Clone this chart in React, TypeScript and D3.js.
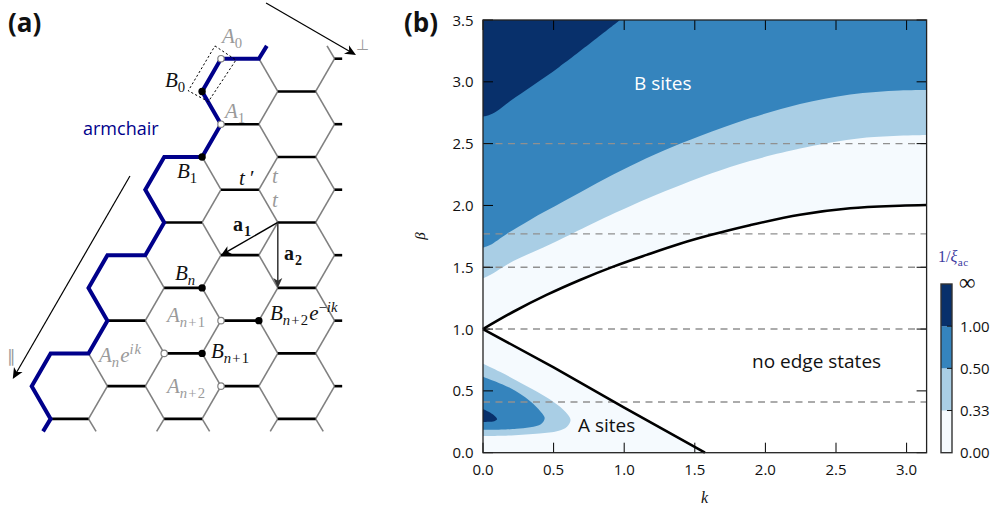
import React from "react";
import * as d3 from "d3";

const W = 993, H = 510;
const SANS = "'Open Sans', Lato, sans-serif";
const SERIF = "'Liberation Serif', serif";

// ---- Panel (b) data: [k, beta]
const xTicks = [0, 0.5, 1, 1.5, 2, 2.5, 3];
const yTicks = [0, 0.5, 1, 1.5, 2, 2.5, 3, 3.5];
const dashedBetas = [2.5, 1.77, 1.5, 1.0, 0.41];
const edgeUpper: [number, number][] = [[0, 1.0], [0.215, 1.14], [0.45, 1.276], [0.687, 1.397], [0.923, 1.505], [1.159, 1.6], [1.395, 1.69], [1.61, 1.76], [1.89, 1.84], [2.245, 1.925], [2.6, 1.977], [2.95, 1.998], [3.1416, 2.004]];
const edgeLower: [number, number][] = [[0, 1.0], [0.5, 0.69], [1, 0.365], [1.572, 0]];
const contourB033: [number, number][] = [[0, 1.411], [0.05, 1.438], [0.215, 1.55], [0.427, 1.66], [0.628, 1.77], [0.937, 1.94], [1.173, 2.06], [1.41, 2.17], [1.62, 2.26], [1.89, 2.36], [2.245, 2.46], [2.445, 2.505], [2.717, 2.55], [3.1416, 2.57]];
const contourB050: [number, number][] = [[0, 1.659], [0.05, 1.68], [0.168, 1.77], [0.333, 1.883], [0.569, 2.031], [0.805, 2.18], [1.04, 2.318], [1.277, 2.443], [1.537, 2.562], [1.89, 2.705], [2.245, 2.82], [2.6, 2.897], [2.95, 2.93], [3.1416, 2.934]];
const contourB100: [number, number][] = [[0, 2.72], [0.04, 2.73], [0.094, 2.76], [0.2, 2.85], [0.54, 3.12], [0.97, 3.5]];
const lobeA033: [number, number][] = [[0, 0.72], [0.12, 0.655], [0.236, 0.585], [0.38, 0.495], [0.507, 0.405], [0.585, 0.33], [0.62, 0.265], [0.595, 0.21], [0.53, 0.175], [0.4, 0.155], [0.2, 0.14], [0, 0.135]];
const lobeA050: [number, number][] = [[0, 0.615], [0.19, 0.525], [0.33, 0.42], [0.41, 0.33], [0.437, 0.28], [0.41, 0.23], [0.236, 0.193], [0, 0.184]];
const lobeA100: [number, number][] = [[0, 0.354], [0.05, 0.325], [0.085, 0.295], [0.1, 0.27], [0.08, 0.255], [0.04, 0.25], [0, 0.248]];

const C0 = "#f5fafe", C1 = "#a9cee5", C2 = "#3584bd", C3 = "#08306b";
const cbarColors = [C0, C1, C2, C3];
const cbarLabels = ["0.00", "0.33", "0.50", "1.00", "∞"];

// ---- Panel (a) data: lattice columns per row, in half-bond units
const latticeRows = [
  [10, 12, 16], [9, 13, 15], [10, 12, 16], [7, 9, 13, 15], [6, 10, 12, 16], [7, 9, 13, 15],
  [4, 6, 10, 12, 16], [3, 7, 9, 13, 15], [4, 6, 10, 12, 16], [1, 3, 7, 9, 13, 15], [0, 4, 6, 10, 12, 16], [1, 3, 7, 9, 13, 15],
];
const bluePath: [number, number][] = [[12.42, -0.39], [12, 0], [10, 0], [9, 1], [10, 2], [9, 3], [7, 3], [6, 4], [7, 5], [6, 6], [4, 6], [3, 7], [4, 8], [3, 9], [1, 9], [0, 10], [1, 11], [0.6, 11.38]];
const topStubs: [number, number, number, number][] = [[16, 0, 15.6, -0.39]];
const bottomStubs: [number, number, number, number][] = [[3, 11, 3.4, 11.38], [7, 11, 6.6, 11.38], [9, 11, 9.4, 11.38], [13, 11, 12.6, 11.38], [15, 11, 15.4, 11.38]];
const rightStubColumn = 16, rightStubEnd = 16.4;
const filledSites: [number, number][] = [[9, 1], [9, 3], [9, 7], [12, 8], [9, 9]];
const openSites: [number, number][] = [[10, 0], [10, 2], [10, 8], [10, 10], [7, 9]];
const dottedBox: [number, number][] = [[9.68, -0.39], [10.79, 0.04], [9.33, 1.31], [8.27, 0.98]];
const vectorA1 = [[13, 5], [10, 6]];
const vectorA2 = [[13, 5], [13, 7]];
const arrowPerp = [[12.38, -1.7], [17.13, -0.11]];
const arrowPar = [[5.19, 3.58], [-1.0, 9.78]];

// scales
const cx = d3.scaleLinear().domain([0, 16]).range([31.7, 334.6]);
const ry = d3.scaleLinear().domain([0, 11]).range([58.7, 418.9]);
const kx = d3.scaleLinear().domain([0, Math.PI]).range([483, 926.6]);
const by = d3.scaleLinear().domain([0, 3.5]).range([452.7, 20]);
const cbarY = d3.scaleLinear().domain([0, 4]).range([452.7, 284]);

const smooth = d3.curveCatmullRom.alpha(0.5);
const fn = d3.line<[number, number]>().x(d => kx(d[0])).y(d => by(d[1])).curve(smooth);
const lat = d3.line<[number, number]>().x(d => cx(d[0])).y(d => ry(d[1]));
const fillAbove = (pts: [number, number][]) => {
  const a = d3.area<[number, number]>().x(d => kx(d[0])).y0(by(3.5)).y1(d => by(d[1])).curve(smooth);
  return a(pts) as string;
};

type Seg = { t: string; i?: boolean; b?: boolean; s?: "sub" | "sup"; ls?: number };
const Math_ = ({ x, y, size, fill, segs }: { x: number; y: number; size: number; fill: string; segs: Seg[] }) => {
  let cur = 0;
  return (
    <text x={x} y={y} fontFamily={SERIF} fontSize={size} fill={fill}>
      {segs.map((sg, n) => {
        const off = sg.s === "sub" ? size * 0.24 : sg.s === "sup" ? -size * 0.38 : 0;
        const dy = off - cur;
        cur = off;
        return (
          <tspan key={n} dy={dy} fontStyle={sg.i ? "italic" : "normal"} fontWeight={sg.b ? "bold" : "normal"} fontSize={sg.s ? size * 0.7 : size} letterSpacing={sg.ls ?? 0}>
            {sg.t}
          </tspan>
        );
      })}
    </text>
  );
};

const Arrow = ({ pts, color, width, head }: { pts: number[][]; color: string; width: number; head: number }) => {
  const x1 = cx(pts[0][0]), y1 = ry(pts[0][1]), x2 = cx(pts[1][0]), y2 = ry(pts[1][1]);
  const ang = Math.atan2(y2 - y1, x2 - x1);
  const px = (d: number, o: number) => [x2 - d * Math.cos(ang) - o * Math.sin(ang), y2 - d * Math.sin(ang) + o * Math.cos(ang)];
  const h = [px(0, 0), px(head, head * 0.45), px(head * 0.72, 0), px(head, -head * 0.45)];
  return (
    <g>
      <line x1={x1} y1={y1} x2={x2 - head * 0.6 * Math.cos(ang)} y2={y2 - head * 0.6 * Math.sin(ang)} stroke={color} strokeWidth={width} />
      <polygon points={h.map(p => p.join(",")).join(" ")} fill={color} />
    </g>
  );
};

const G = "#9a9a9a";

export default function App() {
  const blueSet = new Set<string>();
  bluePath.forEach((p, i) => {
    if (i === 0) return;
    const q = bluePath[i - 1];
    blueSet.add([p[0], p[1], q[0], q[1]].join());
    blueSet.add([q[0], q[1], p[0], p[1]].join());
  });
  const grayEdges: [number, number, number, number][] = [];
  const blackEdges: [number, number, number, number][] = [];
  latticeRows.forEach((cols, r) => {
    cols.forEach(c => {
      if (cols.includes(c + 2) && !blueSet.has([c, r, c + 2, r].join())) blackEdges.push([c, r, c + 2, r]);
      if (c === rightStubColumn) blackEdges.push([c, r, rightStubEnd, r]);
      const next = latticeRows[r + 1];
      if (next) {
        for (const d of [-1, 1]) {
          if (next.includes(c + d) && !blueSet.has([c, r, c + d, r + 1].join())) grayEdges.push([c, r, c + d, r + 1]);
        }
      }
    });
  });
  grayEdges.push(...topStubs, ...bottomStubs);

  const cbTickPos = [1, 2, 3];
  const mathSize = 21;

  return (
    <svg width={W} height={H} style={{ position: "absolute", left: 0, top: 0 }} xmlns="http://www.w3.org/2000/svg">
      <rect width={W} height={H} fill="#fff" />
      {/* Panel a */}
      <text x={8} y={32} fontFamily={SANS} fontWeight="bold" fontSize={26} fill="#111">(a)</text>
      <text x={404} y={32} fontFamily={SANS} fontWeight="bold" fontSize={26} fill="#111">(b)</text>

      {grayEdges.map((e, i) => (
        <line key={i} x1={cx(e[0])} y1={ry(e[1])} x2={cx(e[2])} y2={ry(e[3])} stroke="#808080" strokeWidth={1.6} />
      ))}
      {blackEdges.map((e, i) => (
        <line key={i} x1={cx(e[0])} y1={ry(e[1])} x2={cx(e[2])} y2={ry(e[3])} stroke="#000" strokeWidth={2.6} />
      ))}
      <path d={lat(bluePath) as string} fill="none" stroke="#00008b" strokeWidth={4} strokeLinejoin="miter" />
      <polygon points={dottedBox.map(p => `${cx(p[0])},${ry(p[1])}`).join(" ")} fill="none" stroke="#000" strokeWidth={1} strokeDasharray="2.2 2.2" />
      <Arrow pts={vectorA1} color="#000" width={1.5} head={10} />
      <Arrow pts={vectorA2} color="#333" width={1.5} head={10} />
      <Arrow pts={arrowPerp} color="#000" width={1.2} head={11} />
      <Arrow pts={arrowPar} color="#000" width={1.2} head={11} />
      {filledSites.map((p, i) => <circle key={i} cx={cx(p[0])} cy={ry(p[1])} r={3.7} fill="#000" />)}
      {openSites.map((p, i) => <circle key={i} cx={cx(p[0])} cy={ry(p[1])} r={3.2} fill="#fff" stroke="#808080" strokeWidth={1.2} />)}

      <text x={83} y={135} fontFamily={SANS} fontSize={18} fill="#00008b">armchair</text>
      <Math_ x={222} y={43} size={mathSize} fill={G} segs={[{ t: "A", i: true }, { t: "0", s: "sub" }]} />
      <Math_ x={225} y={118} size={mathSize} fill={G} segs={[{ t: "A", i: true }, { t: "1", s: "sub" }]} />
      <Math_ x={165} y={87} size={mathSize} fill="#111" segs={[{ t: "B", i: true }, { t: "0", s: "sub" }]} />
      <Math_ x={177} y={178} size={mathSize} fill="#111" segs={[{ t: "B", i: true }, { t: "1", s: "sub" }]} />
      <Math_ x={239} y={185} size={mathSize} fill="#111" segs={[{ t: "t", i: true }, { t: " ′" }]} />
      <Math_ x={272} y={183} size={mathSize} fill={G} segs={[{ t: "t", i: true }]} />
      <Math_ x={272} y={207} size={mathSize} fill={G} segs={[{ t: "t", i: true }]} />
      <Math_ x={233} y={231} size={20} fill="#111" segs={[{ t: "a", b: true, ls: 1 }, { t: "1", b: true, s: "sub" }]} />
      <Math_ x={284} y={260} size={20} fill="#111" segs={[{ t: "a", b: true, ls: 1 }, { t: "2", b: true, s: "sub" }]} />
      <Math_ x={175} y={280} size={mathSize} fill="#111" segs={[{ t: "B", i: true }, { t: "n", i: true, s: "sub" }]} />
      <Math_ x={167} y={322} size={mathSize} fill={G} segs={[{ t: "A", i: true }, { t: "n", i: true, s: "sub", ls: 1 }, { t: "+1", s: "sub", ls: 1.2 }]} />
      <Math_ x={99} y={362} size={mathSize} fill={G} segs={[{ t: "A", i: true }, { t: "n", i: true, s: "sub", ls: 1 }, { t: "e", i: true }, { t: "ik", i: true, s: "sup", ls: 1 }]} />
      <Math_ x={167} y={393} size={mathSize} fill={G} segs={[{ t: "A", i: true }, { t: "n", i: true, s: "sub", ls: 1 }, { t: "+2", s: "sub", ls: 1.2 }]} />
      <Math_ x={211} y={358} size={mathSize} fill="#111" segs={[{ t: "B", i: true }, { t: "n", i: true, s: "sub", ls: 1 }, { t: "+1", s: "sub", ls: 1.2 }]} />
      <Math_ x={270} y={320} size={mathSize} fill="#111" segs={[{ t: "B", i: true }, { t: "n", i: true, s: "sub", ls: 1 }, { t: "+2", s: "sub", ls: 1.2 }, { t: "e", i: true }, { t: "−", s: "sup" }, { t: "ik", i: true, s: "sup" }]} />
      <text x={356} y={50} fontFamily={SERIF} fontSize={15} fill={G}>⊥</text>
      <text x={7} y={362} fontFamily={SERIF} fontSize={17} fill={G}>∥</text>

      {/* Panel b fills */}
      <path d={fillAbove(edgeUpper)} fill={C0} />
      <path d={fillAbove(contourB033)} fill={C1} />
      <path d={fillAbove(contourB050)} fill={C2} />
      <path d={`${fn(contourB100)}L${kx(0)},${by(3.5)}Z`} fill={C3} />
      <path d={`M${kx(edgeLower[0][0])},${by(edgeLower[0][1])}${edgeLower.map(p => `L${kx(p[0])},${by(p[1])}`).join("")}L${kx(0)},${by(0)}Z`} fill={C0} />
      <path d={`${fn(lobeA033)}Z`} fill={C1} />
      <path d={`${fn(lobeA050)}Z`} fill={C2} />
      <path d={`${fn(lobeA100)}Z`} fill={C3} />

      {dashedBetas.map(b => (
        <line key={b} x1={kx(0)} x2={kx(Math.PI)} y1={by(b)} y2={by(b)} stroke="#909090" strokeWidth={1.4} strokeDasharray="7 5.5" />
      ))}
      <path d={fn(edgeUpper) as string} fill="none" stroke="#000" strokeWidth={2.6} />
      <path d={d3.line<[number, number]>().x(d => kx(d[0])).y(d => by(d[1]))(edgeLower) as string} fill="none" stroke="#000" strokeWidth={2.6} />

      {/* Axes */}
      {xTicks.map(t => (
        <g key={t}>
          <line x1={kx(t)} x2={kx(t)} y1={by(0)} y2={by(0) - 10} stroke="#000" strokeWidth={1} />
          <line x1={kx(t)} x2={kx(t)} y1={by(3.5)} y2={by(3.5) + 10} stroke="#000" strokeWidth={1} />
          <text x={kx(t)} y={475} textAnchor="middle" fontFamily={SANS} fontSize={15} fill="#111">{t.toFixed(1)}</text>
        </g>
      ))}
      {yTicks.map(t => (
        <g key={t}>
          <line x1={kx(0)} x2={kx(0) + 10} y1={by(t)} y2={by(t)} stroke="#000" strokeWidth={1} />
          <line x1={kx(Math.PI)} x2={kx(Math.PI) - 10} y1={by(t)} y2={by(t)} stroke="#000" strokeWidth={1} />
          <text x={473.5} y={by(t) + 5.5} textAnchor="end" fontFamily={SANS} fontSize={15} fill="#111">{t.toFixed(1)}</text>
        </g>
      ))}
      <rect x={kx(0)} y={by(3.5)} width={kx(Math.PI) - kx(0)} height={by(0) - by(3.5)} fill="none" stroke="#222" strokeWidth={1.3} />
      <text x={701} y={503} fontFamily={SERIF} fontStyle="italic" fontSize={16} fill="#111">k</text>
      <text transform={`translate(425,236) rotate(-90)`} textAnchor="middle" fontFamily={SERIF} fontStyle="italic" fontSize={15} fill="#111">β</text>

      <text x={634} y={90} fontFamily={SANS} fontSize={19} fill="#fff">B sites</text>
      <text x={578} y={432} fontFamily={SANS} fontSize={19} fill="#111">A sites</text>
      <text x={752} y={368} fontFamily={SANS} fontSize={19} fill="#111">no edge states</text>

      {/* Colour bar */}
      {cbarColors.map((c, i) => (
        <rect key={c} x={941} width={11} y={cbarY(i + 1)} height={cbarY(i) - cbarY(i + 1)} fill={c} />
      ))}
      <rect x={941} width={11} y={cbarY(4)} height={cbarY(0) - cbarY(4)} fill="none" stroke="#333" strokeWidth={1.4} />
      {cbTickPos.map(i => <line key={i} x1={947} x2={952} y1={cbarY(i)} y2={cbarY(i)} stroke="#111" strokeWidth={1} />)}
      {cbarLabels.map((l, i) => (
        <text key={l} x={l === "∞" ? 959 : 960} y={cbarY(i) + (l === "∞" ? 6 : 5.5)} fontFamily={l === "∞" ? SERIF : SANS} fontSize={l === "∞" ? 23 : 15} fill="#111">{l}</text>
      ))}
      <Math_ x={938} y={262} size={16} fill="#3b3b9f" segs={[{ t: "1/" }, { t: "ξ", i: true, ls: 0.5 }, { t: "ac", s: "sub", ls: 0.5 }]} />
    </svg>
  );
}
